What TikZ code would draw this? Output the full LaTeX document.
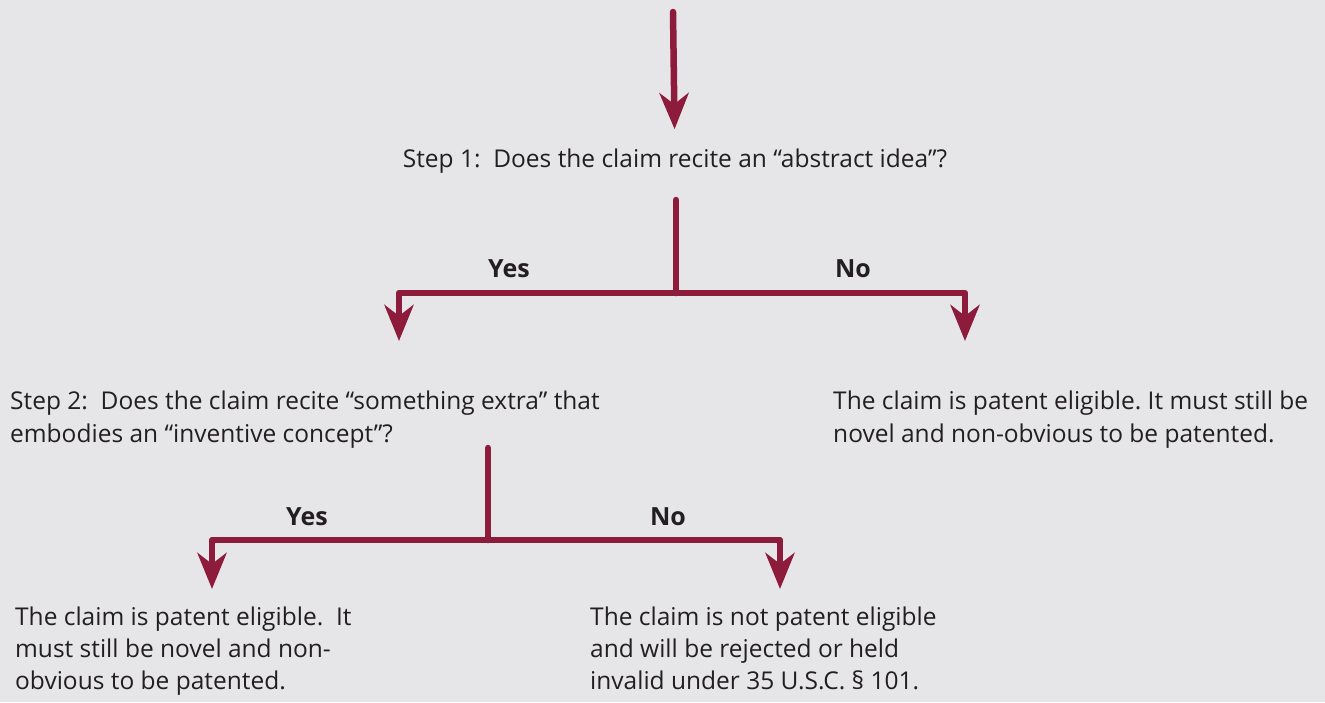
\documentclass[tikz,border=0pt]{standalone}
\usepackage{fontspec}
\setmainfont{Open Sans}
\usetikzlibrary{arrows.meta}
\definecolor{bg}{RGB}{230,230,232}
\definecolor{wine}{RGB}{140,27,60}
\definecolor{ink}{RGB}{35,31,32}
\frenchspacing
\tikzset{>={Stealth[length=36pt,width=29pt,inset=11pt]}}
\tikzset{flow/.style={draw=wine,line width=6.5pt,line cap=round,line join=round}}
\tikzset{txt/.style={text=ink,font=\fontsize{24.5}{32}\selectfont,inner sep=0pt,align=left}}
\tikzset{ans/.style={text=ink,font=\fontsize{25}{28}\selectfont\bfseries,inner sep=0pt}}

\begin{document}
\begin{tikzpicture}[x=1pt,y=-1pt]
    \fill[bg] (0,0) rectangle (1325,702);
    \useasboundingbox (0,0) rectangle (1325,702);
    % step 1
    \coordinate (T0) at (673,12);
    \node[txt,anchor=base] (S1) at (675,167) {Step 1:\ \ Does the claim recite an “abstract idea”?};
    \draw[flow,->] (T0) -- (S1) [shorten >=19pt];
    \coordinate (B1) at (676,200);
    \coordinate (J1) at (676,293);
    \coordinate (A1) at (399,341);
    \coordinate (A2) at (965,341);
    \draw[flow] (B1) -- (J1);
    \draw[flow,->] (J1) -| (A1);
    \draw[flow,->] (J1) -| (A2);
    \node[ans,anchor=base] (Y1) at (509,277) {Yes};
    \node[ans,anchor=base] (N1) at (853,277) {No};
    % step 2 and first outcome
    \node[txt,anchor=base west] (S2) at (10,409) {Step 2:\ \ Does the claim recite “something extra” that};
    \node[txt,anchor=base west] (S2b) at (10,442) {embodies an “inventive concept”?};
    \node[txt,anchor=base west] (E1) at (833,409) {The claim is patent eligible. It must still be};
    \node[txt,anchor=base west] (E1b) at (833,442) {novel and non-obvious to be patented.};
    \coordinate (B2) at (488,448);
    \coordinate (J2) at (488,540);
    \coordinate (A3) at (212,589);
    \coordinate (A4) at (780,589);
    \draw[flow] (B2) -- (J2);
    \draw[flow,->] (J2) -| (A3);
    \draw[flow,->] (J2) -| (A4);
    \node[ans,anchor=base] (Y2) at (307,525) {Yes};
    \node[ans,anchor=base] (N2) at (668,525) {No};
    % final outcomes
    \node[txt,anchor=north west] (E2) at (15,607) {The claim is patent eligible.\ \ It\\must still be novel and non-\\obvious to be patented.};
    \node[txt,anchor=north west] (E3) at (590,607) {The claim is not patent eligible\\and will be rejected or held\\invalid under 35 U.S.C. § 101.};
  \end{tikzpicture}
\end{document}
